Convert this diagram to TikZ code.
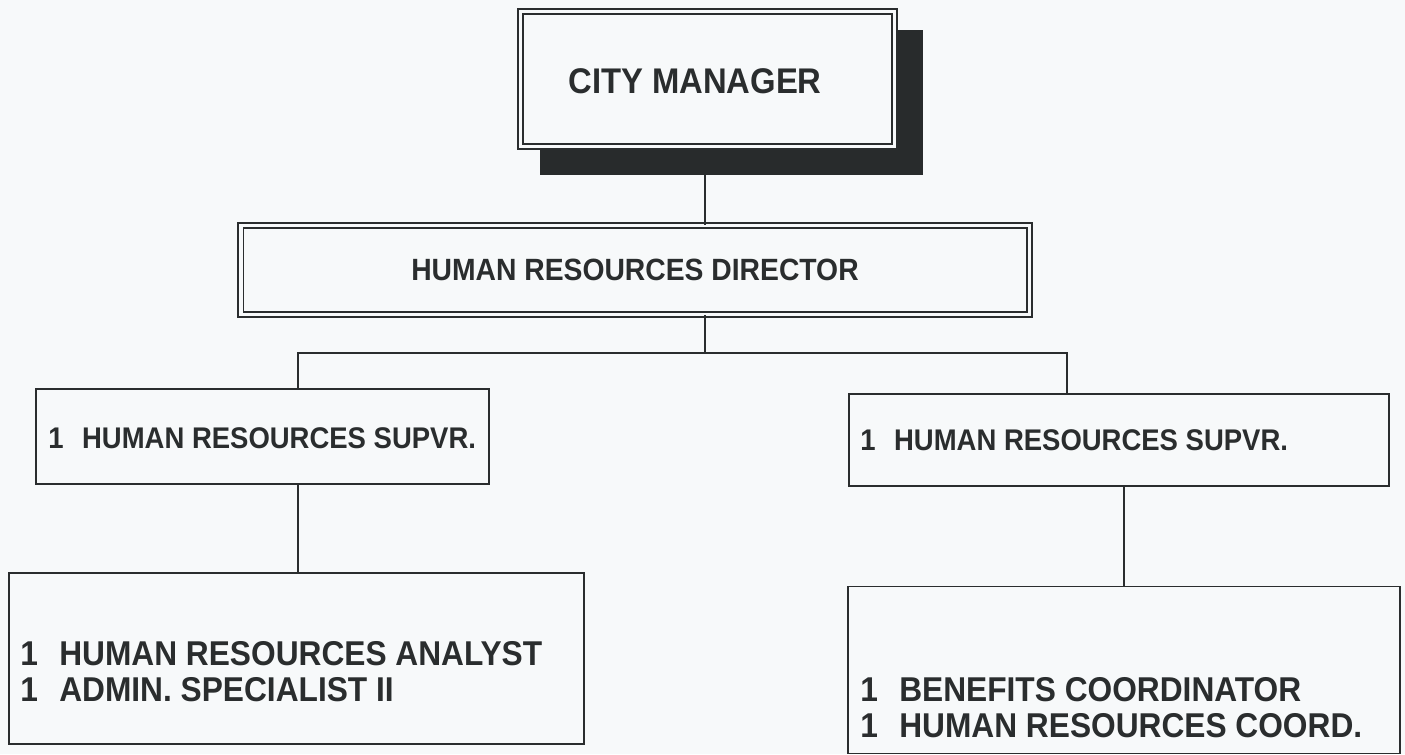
\documentclass[tikz,border=0pt]{standalone}
\usepackage{fontspec}
\setmainfont{Liberation Sans}
\newfontfamily\chartfont[FakeStretch=0.92]{Liberation Sans}
\usetikzlibrary{positioning}

\definecolor{ink}{RGB}{42,45,46}
\definecolor{paper}{RGB}{247,249,250}

% space between a head count and the job title
\newcommand{\posgap}{\hspace{0.62em}}

\tikzset{
  post/.style={rectangle, draw=ink, line width=0.9pt},
  headpost/.style={post, fill=paper, double=paper, double distance=2.2pt, line width=0.75pt,
    text=ink, inner sep=0pt},
  postname/.style={text=ink, font=\chartfont\bfseries\fontsize{17}{20}\selectfont,
    inner sep=0pt, anchor=west},
  staff/.style={text=ink, font=\chartfont\bfseries\fontsize{19.6}{20.5}\selectfont,
    inner sep=0pt, align=left, anchor=west},
  link/.style={draw=ink, line width=0.8pt}
}

\begin{document}
\begin{tikzpicture}[x=0.02cm, y=-0.02cm]
  \fill[paper] (0,0) rectangle (1405,754);
  \useasboundingbox (0,0) rectangle (1405,754);

  % top of the chart
  \fill[ink!95!black] (540,30) rectangle (923,175);
  \node[headpost, minimum width=7.48cm, minimum height=2.7cm] (cm) at (707.5,79) {};
  \node[text=ink, font=\chartfont\bfseries\fontsize{20.3}{22}\selectfont, inner sep=0pt] (cmtext) at (695,81) {CITY MANAGER};
  \node[headpost, minimum width=15.78cm, minimum height=1.78cm,
        font=\chartfont\bfseries\fontsize{17.5}{20}\selectfont] (hrd) at (635,270) {HUMAN RESOURCES DIRECTOR};

  % supervisors
  \node[post, minimum width=9.06cm, minimum height=1.9cm] (supl) at (262.5,436.5) {};
  \node[postname] (supltext) at (48,438) {1\posgap HUMAN RESOURCES SUPVR.};
  \node[post, minimum width=10.8cm, minimum height=1.84cm] (supr) at (1119,440) {};
  \node[postname] (suprtext) at (860,440) {1\posgap HUMAN RESOURCES SUPVR.};

  % staff under each supervisor
  \node[post, minimum width=11.5cm, minimum height=3.42cm] (staffl) at (296.5,658.5) {};
  \node[staff] (stafflist) at (20,672)
    {1\posgap HUMAN RESOURCES ANALYST\\1\posgap ADMIN. SPECIALIST II};
  \node[post, minimum width=11.04cm, minimum height=3.34cm] (staffr) at (1124,670) {};
  \node[staff] (staffrlist) at (860,708)
    {1\posgap BENEFITS COORDINATOR\\1\posgap HUMAN RESOURCES COORD.};

  % connectors
  \coordinate (cmfoot) at (705,175);
  \coordinate (bar) at (705,353);
  \coordinate (legl) at (298,0);
  \coordinate (legr) at (1067,0);
  \coordinate (legr2) at (1124,0);
  \draw[link] (cmfoot) -- (hrd.north -| bar);
  \draw[link] (hrd.south -| bar) -- (bar);
  \draw[link] (supl.north -| legl) |- (bar) -| (supr.north -| legr);
  \draw[link] (supl.south -| legl) -- (staffl.north -| legl);
  \draw[link] (supr.south -| legr2) -- (staffr.north -| legr2);
\end{tikzpicture}
\end{document}
